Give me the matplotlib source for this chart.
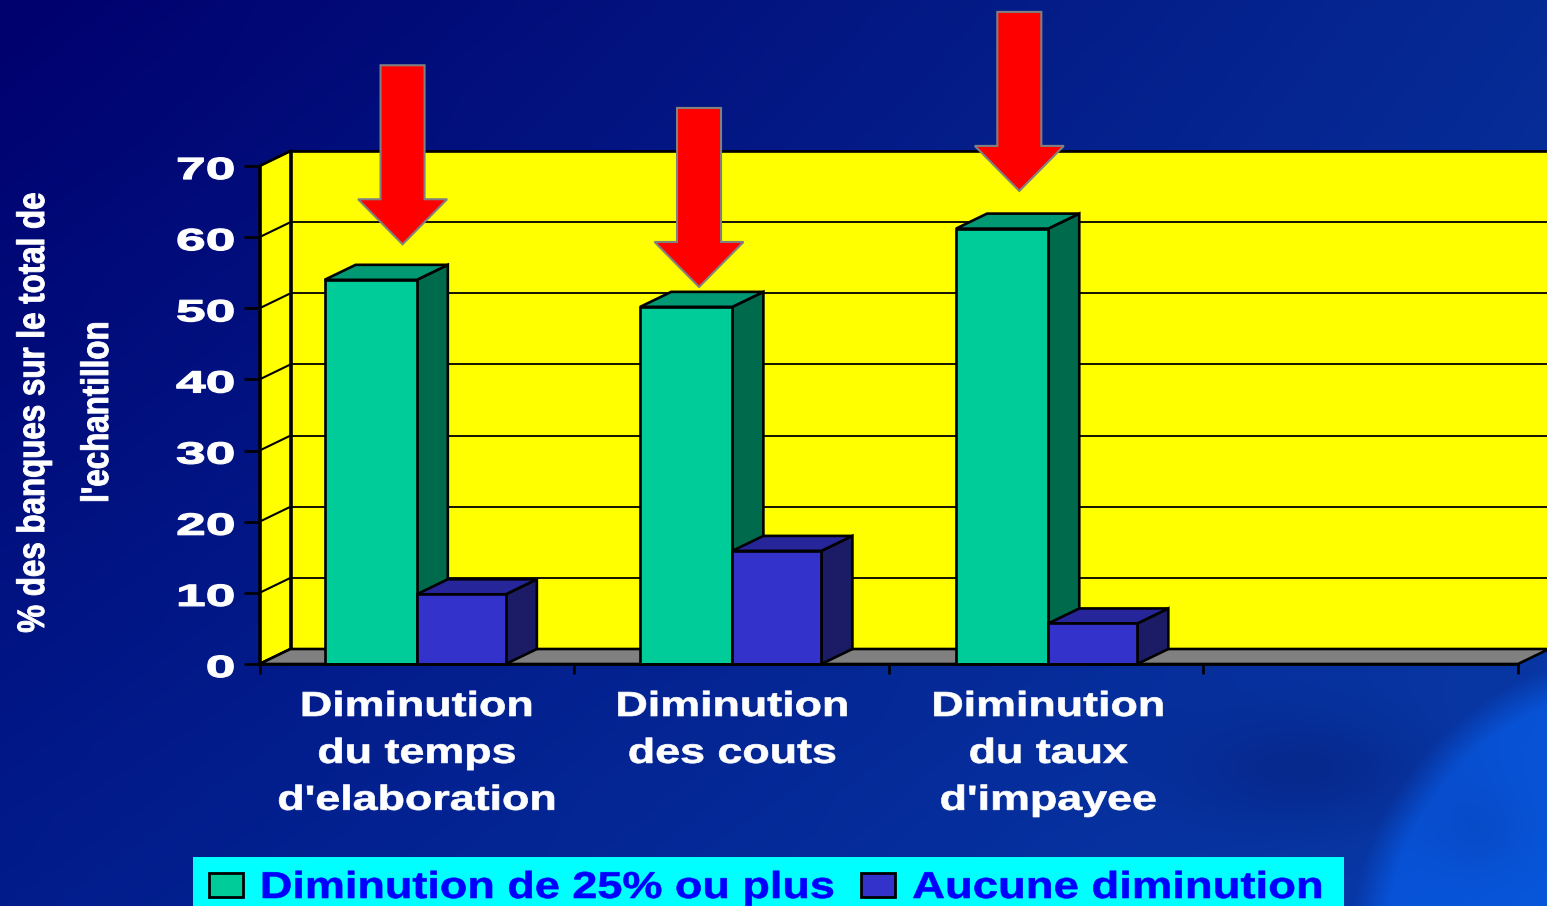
import numpy as np
import matplotlib
matplotlib.use("Agg")
import matplotlib.pyplot as plt
from matplotlib.patches import Patch, Polygon, Rectangle
from matplotlib.patheffects import AbstractPathEffect
from matplotlib.transforms import Affine2D

# values
categories = ["Diminution\ndu temps\nd'elaboration", "Diminution\ndes couts", "Diminution\ndu taux\nd'impayee", ""]
series_names = ["Diminution de 25% ou plus", "Aucune diminution"]
green_vals = [54.0, 50.2, 61.2]
blue_vals = [9.8, 15.9, 5.7]
y_ticks = [0, 10, 20, 30, 40, 50, 60, 70]
ylabel_text = "% des banques sur le total de\nl'echantillon"
arrow_x = [0.4547, 1.397, 2.415]
arrow_tip = [59.0, 53.0, 66.5]

W, H = 1547, 906
L, R, B, T = 259.5, 1518, 664, 166
FONT = "Liberation Sans"


class Stretch(AbstractPathEffect):
    # text is drawn wider or narrower than the font, like the stretched slide text
    def __init__(self, sx=1.0, align=0.5, bold=0.0, ypx=0.0):
        super().__init__()
        self.sx, self.align, self.bold, self.ypx = sx, align, bold, ypx

    def draw_path(self, renderer, gc, tpath, affine, rgbFace=None):
        ext = tpath.get_extents()
        cx = ext.x0 + ext.width * self.align
        t = Affine2D().translate(-cx, 0).scale(self.sx, 1).translate(cx, 0) + affine
        t = t + Affine2D().translate(0, self.ypx)
        gc0 = renderer.new_gc()
        gc0.copy_properties(gc)
        gc0.set_linewidth(self.bold)
        gc0.set_foreground(rgbFace)
        renderer.draw_path(gc0, tpath, t, rgbFace)
        gc0.restore()


def bump(xx, yy, x0, y0, sx, sy):
    return np.exp(-((xx - x0) / sx) ** 2 - ((yy - y0) / sy) ** 2)


# background: blue gradient with the globe at the bottom right
xx, yy = np.meshgrid(np.arange(0, W, 2), np.arange(0, H, 2))
u, v = xx / W, yy / H
r = 0 + 6 * u + 2 * v
g = 0 + 42 * u + 28 * v - 10 * u * v
b = 110 + 38 * u + 30 * v - 8 * u * v
globe = np.clip((300 - np.hypot(xx - 1650, yy - 950)) / 35, 0, 1)
g = g + 26 * globe
b = b + 48 * globe
dark = bump(xx, yy, 1310, 770, 120, 55) + 0.6 * bump(xx, yy, 1480, 830, 45, 40)
g = g - 11 * dark
b = b - 20 * dark
bg_img = np.clip(np.dstack([r, g, b]) / 255, 0, 1)

fig = plt.figure(figsize=(W / 100, H / 100), dpi=100)
bg = fig.add_axes([0, 0, 1, 1])
bg.imshow(bg_img, extent=(0, W, H, 0), aspect="auto", interpolation="bilinear")
bg.set_xlim(0, W)
bg.set_ylim(H, 0)
bg.axis("off")
bg.add_patch(Rectangle((193, 857), 1151, 60, facecolor="#00FFFF", edgecolor="none"))

ax = fig.add_axes([L / W, 1 - B / H, (R - L) / W, (B - T) / H])
ax.patch.set_visible(False)
ax.set_xlim(0, 4)
ax.set_ylim(0, 70)

# pixel sizes in data units, for the 3d depth
px = 4 / (R - L)
py = 70 / (B - T)
dx = 31 * px
dy = 15 * py
lw = 1.9

# walls and floor
ax.add_patch(Polygon([(dx, dy), (4 + dx, dy), (4 + dx, 70 + dy), (dx, 70 + dy)], fc="#FFFF00", ec="black", lw=lw, clip_on=False, zorder=1))
ax.add_patch(Polygon([(0, 0), (dx, dy), (dx, 70 + dy), (0, 70)], fc="#FFFF00", ec="black", lw=lw, clip_on=False, zorder=1.1))
ax.add_patch(Polygon([(0, 0), (4, 0), (4 + dx, dy), (dx, dy)], fc="#808080", ec="black", lw=lw, clip_on=False, zorder=1.2))
for t in y_ticks:
    ax.plot([dx, 4 + dx], [t + dy, t + dy], color="black", lw=1.3, clip_on=False, zorder=1.15)
    ax.plot([0, dx], [t, t + dy], color="black", lw=1.5, clip_on=False, zorder=1.15)


def box3d(x, w, vals, front, side, top, z):
    for xi, h in zip(x, vals):
        ax.add_patch(Polygon([(xi + w, 0), (xi + w + dx, dy), (xi + w + dx, h + dy), (xi + w, h)],
                             fc=side, ec="black", lw=lw, clip_on=False, zorder=z))
        ax.add_patch(Polygon([(xi, h), (xi + w, h), (xi + w + dx, h + dy), (xi + dx, h + dy)],
                             fc=top, ec="black", lw=lw, clip_on=False, zorder=z))
    ax.bar(x, vals, w, align="edge", color=front, edgecolor="black", lw=lw, zorder=z + 0.1, clip_on=False)


pos = np.array([0.5, 1.503, 2.507])
gw, bw = 0.293, 0.283
box3d(pos - gw, gw, green_vals, "#00CC99", "#006A4D", "#009973", 2)
box3d(pos, bw, blue_vals, "#3333CC", "#1C1C66", "#26269A", 3)

# red arrows
for ax_x, tip in zip(arrow_x, arrow_tip):
    hw, sw = 44.5 * px, 22 * px
    hh, sh = 45 * py, 179 * py
    ax.add_patch(Polygon([(ax_x, tip), (ax_x - hw, tip + hh), (ax_x - sw, tip + hh), (ax_x - sw, tip + sh),
                          (ax_x + sw, tip + sh), (ax_x + sw, tip + hh), (ax_x + hw, tip + hh)],
                         fc="#FF0000", ec="#808080", lw=1.5, clip_on=False, zorder=5))

for s in ["top", "right"]:
    ax.spines[s].set_visible(False)
for s in ["left", "bottom"]:
    ax.spines[s].set_linewidth(lw)
    ax.spines[s].set_zorder(4)

ax.set_yticks(y_ticks)
ax.set_xticks(np.arange(5))
ax.set_xticklabels([])
ax.set_xticks(pos.tolist() + [3.5], labels=categories, minor=True)
ax.tick_params(axis="y", length=11.5, width=1.9, pad=6.5, labelcolor="white", labelsize=22)
ax.tick_params(axis="x", which="major", length=7.5, width=1.9)
ax.tick_params(axis="x", which="minor", length=0, pad=18.7, labelcolor="white", labelsize=25)

for lab in ax.get_yticklabels():
    lab.set_fontfamily(FONT)
    lab.set_fontweight("bold")
    lab.set_path_effects([Stretch(sx=1.75, align=1.0, bold=0.9, ypx=-1.5)])
for lab in ax.get_xticklabels(minor=True):
    lab.set_fontfamily(FONT)
    lab.set_fontweight("bold")
    lab.set_linespacing(1.535)
    lab.set_path_effects([Stretch(sx=1.29, bold=0.5)])

ax.set_ylabel(ylabel_text, color="white", fontsize=27.5, fontfamily=FONT, fontweight="bold",
              linespacing=2.0, ha="center", va="center", rotation=90,
              path_effects=[Stretch(sx=0.82, bold=0.7)])
ax.yaxis.set_label_coords((66 - L) / (R - L), (B - 412) / (B - T))

handles = [Patch(fc="#00CC99", ec="black", lw=2), Patch(fc="#3333CC", ec="black", lw=2)]
leg = fig.legend(handles, series_names, ncol=2, loc="lower left", bbox_to_anchor=(209 / W, 0.0),
                 frameon=False, borderpad=0, borderaxespad=0, handlelength=0.9, handleheight=0.61,
                 handletextpad=0.47, columnspacing=3.24,
                 prop={"family": FONT, "weight": "bold", "size": 27}, labelcolor="#0000FF")
for txt, sx in zip(leg.get_texts(), [1.2, 1.212]):
    txt.set_path_effects([Stretch(sx=sx, align=0.0, bold=0.4)])

fig.savefig("out.png", dpi=100)
